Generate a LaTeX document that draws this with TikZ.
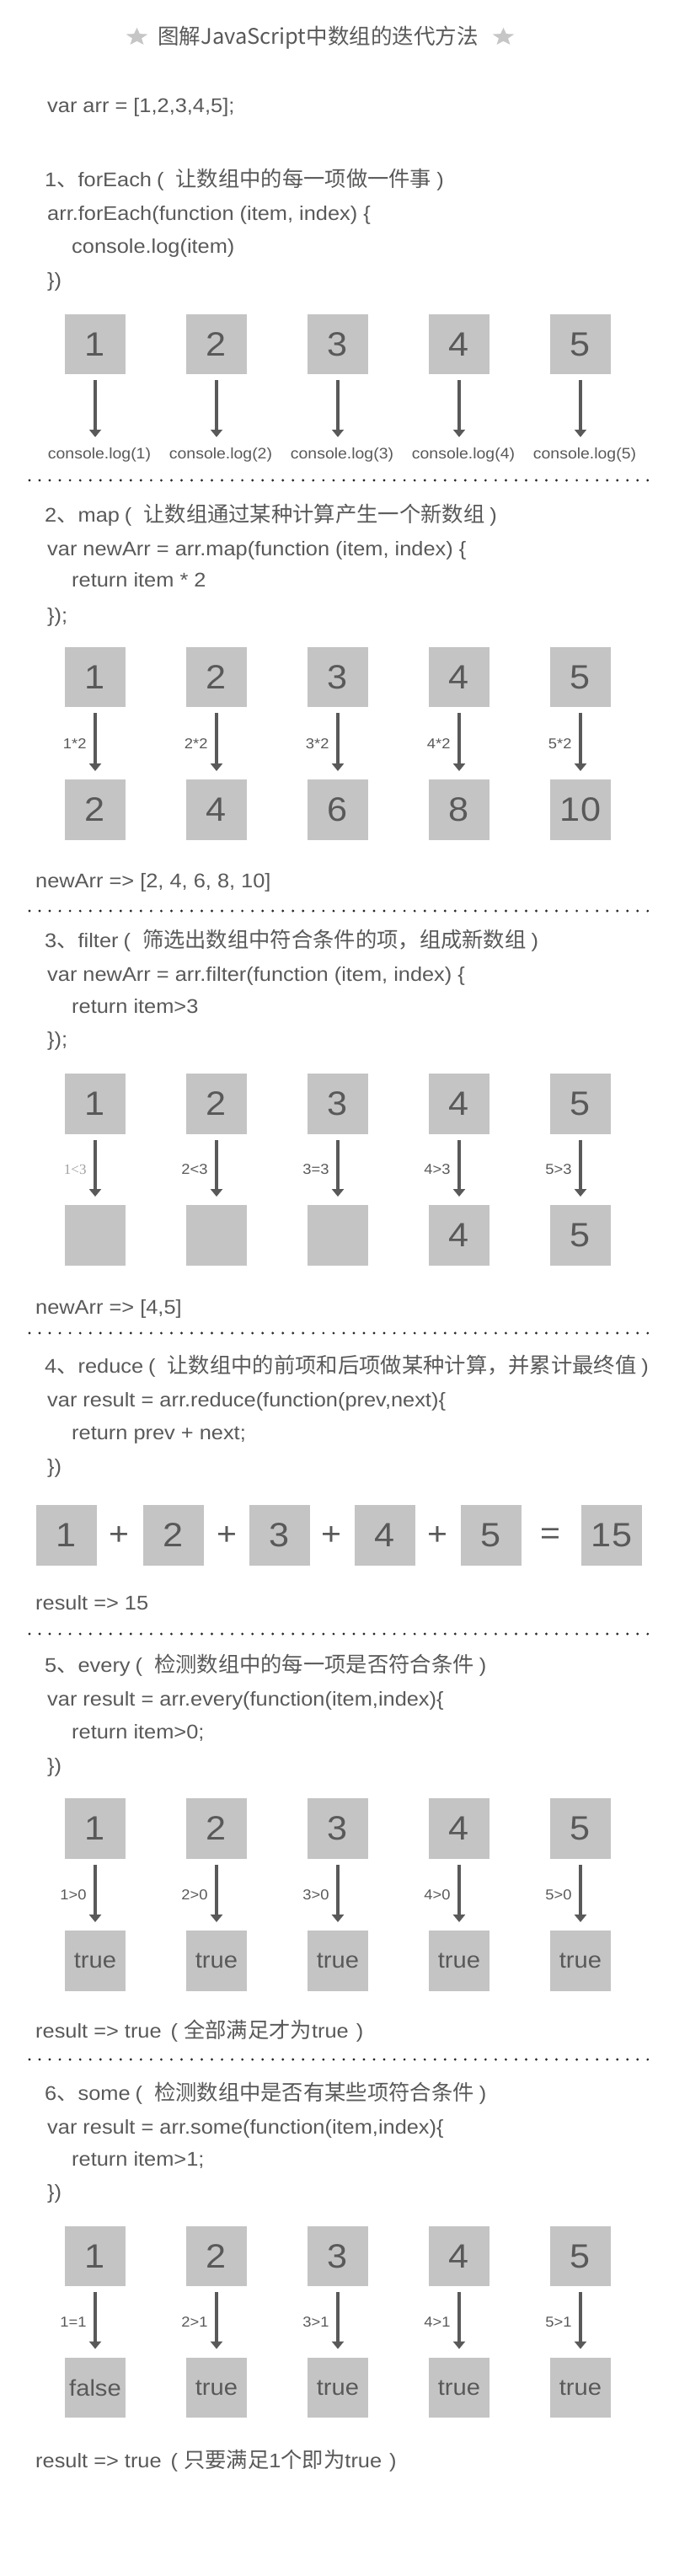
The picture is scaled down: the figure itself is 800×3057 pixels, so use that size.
\documentclass[tikz,border=0pt]{standalone}
\usepackage{fontspec}
\setmainfont{Liberation Sans}[FakeStretch=1.08]
\newfontfamily\cjkf{Noto Sans CJK SC}[Scale=1.077]
\newfontfamily\cjktitle{Noto Sans CJK SC}
\newfontfamily\serifx{Liberation Serif}
\usetikzlibrary{arrows.meta}
\newcommand\zh[1]{{\cjkf #1}}
\newcommand\lpar{\hspace{6pt}(\hspace{14pt}}
\newcommand\rpar{\hspace{6pt})}
\definecolor{txt}{HTML}{595959}
\definecolor{boxc}{HTML}{C4C4C4}
\definecolor{arrc}{HTML}{595959}
\definecolor{starc}{HTML}{C6C6C6}
\definecolor{dotc}{HTML}{2A2A2A}
\definecolor{lightc}{HTML}{A0A0A0}
\tikzset{
  txtline/.style={anchor=base west, inner sep=0pt, text=txt, font=\fontsize{23.5}{28}\selectfont},
  box/.style={fill=boxc, minimum width=72pt, minimum height=71.5pt, inner sep=0pt, text=txt, font=\fontsize{40}{40}\selectfont},
  tbox/.style={box, font=\fontsize{27}{27}\selectfont},
  arr/.style={draw=arrc, line width=4pt, -{Triangle[width=14pt,length=9pt]}, shorten <=7pt, shorten >=10pt},
  lbl/.style={font=\fontsize{17}{17}\selectfont, text=txt, inner sep=0pt, anchor=east, xshift=-8.5pt},
  op/.style={text=txt, inner sep=0pt, font=\fontsize{38}{38}\selectfont},
  clog/.style={anchor=base, inner sep=0pt, text=txt, font=\fontsize{18}{18}\selectfont},
}
\begin{document}
\begin{tikzpicture}[x=1pt,y=-1pt]
\useasboundingbox (0,0) rectangle (800,3057);
\fill[white] (0,0) rectangle (800,3057);

% ---------- title ----------
\node[inner sep=0pt, text=txt, font=\fontsize{25.5}{30}\cjktitle] (title) at (377.5,45) {图解JavaScript中数组的迭代方法};
\foreach \sx in {162.5,597.5} {
  \begin{scope}[shift={(\sx,44)}, yscale=-0.82]
    \fill[starc] (90:13.5) -- (126:5.8) -- (162:13.5) -- (198:5.8) -- (234:13.5) -- (270:5.8) -- (306:13.5) -- (342:5.8) -- (18:13.5) -- (54:5.8) -- cycle;
  \end{scope}
}

\node[txtline] (v0) at (56,133) {var arr = [1,2,3,4,5];};

% ---------- 1 forEach ----------
\node[txtline] (t1) at (53,221) {1\zh{、}forEach\lpar\zh{让数组中的每一项做一件事}\rpar};
\node[txtline] (s1a) at (56,261.5) {arr.forEach(function (item, index) \{};
\node[txtline] (s1b) at (85,300.5) {console.log(item)};
\node[txtline] (s1c) at (56,340.5) {\})};
\foreach \i in {1,...,5} {
  \node[box] (a\i) at ({113+144*(\i-1)},408.5) {\i};
  \node[clog] (c\i) at ({118+144*(\i-1)},544) {console.log(\i)};
  \draw[arr, shorten >=12pt] (a\i.south) -- (a\i.south |- c\i.north);
}

% ---------- 2 map ----------
\node[txtline] (t2) at (53,619) {2\zh{、}map\lpar\zh{让数组通过某种计算产生一个新数组}\rpar};
\node[txtline] (s2a) at (56,659.5) {var newArr = arr.map(function (item, index) \{};
\node[txtline] (s2b) at (85,696.5) {return item * 2};
\node[txtline] (s2c) at (56,738.5) {\});};
\foreach \i/\v in {1/2,2/4,3/6,4/8,5/10} {
  \node[box] (m\i) at ({113+144*(\i-1)},803.5) {\i};
  \node[box] (n\i) at ({113+144*(\i-1)},961) {\v};
  \draw[arr] (m\i.south) -- (n\i.north) node[midway, lbl] {\i*2};
}
\node[txtline] (r2) at (42,1053.5) {newArr => [2, 4, 6, 8, 10]};

% ---------- 3 filter ----------
\node[txtline] (t3) at (53,1124) {3\zh{、}filter\lpar\zh{筛选出数组中符合条件的项，组成新数组}\rpar};
\node[txtline] (s3a) at (56,1164.5) {var newArr = arr.filter(function (item, index) \{};
\node[txtline] (s3b) at (85,1202.5) {return item>3};
\node[txtline] (s3c) at (56,1241.5) {\});};
\foreach \i in {1,...,5} {
  \node[box] (f\i) at ({113+144*(\i-1)},1310) {\i};
}
\node[box] (g1) at (113,1466) {};
\node[box] (g2) at (257,1466) {};
\node[box] (g3) at (401,1466) {};
\node[box] (g4) at (545,1466) {4};
\node[box] (g5) at (689,1466) {5};
\draw[arr] (f1.south) -- (g1.north) node[midway, lbl, text=lightc, font=\fontsize{17}{17}\serifx] {1<3};
\draw[arr] (f2.south) -- (g2.north) node[midway, lbl] {2<3};
\draw[arr] (f3.south) -- (g3.north) node[midway, lbl] {3=3};
\draw[arr] (f4.south) -- (g4.north) node[midway, lbl] {4>3};
\draw[arr] (f5.south) -- (g5.north) node[midway, lbl] {5>3};
\node[txtline] (r3) at (42,1559.5) {newArr => [4,5]};

% ---------- 4 reduce ----------
\node[txtline] (t4) at (53,1629) {4\zh{、}reduce\lpar\zh{让数组中的前项和后项做某种计算，并累计最终值}\rpar};
\node[txtline] (s4a) at (56,1669.5) {var result = arr.reduce(function(prev,next)\{};
\node[txtline] (s4b) at (85,1708.5) {return prev + next;};
\node[txtline] (s4c) at (56,1748.5) {\})};
\node[box] (q1) at (79,1822) {1};
\node[box] (q2) at (205.5,1822) {2};
\node[box] (q3) at (331.5,1822) {3};
\node[box] (q4) at (457,1822) {4};
\node[box] (q5) at (582.5,1822) {5};
\node[box] (q6) at (726,1822) {15};
\node[op] (p1) at (141,1823) {+};
\node[op] (p2) at (269,1823) {+};
\node[op] (p3) at (393,1823) {+};
\node[op] (p4) at (519,1823) {+};
\node[op] (p5) at (653,1823) {=};
\node[txtline] (r4) at (42,1910) {result => 15};

% ---------- 5 every ----------
\node[txtline] (t5) at (53,1984) {5\zh{、}every\lpar\zh{检测数组中的每一项是否符合条件}\rpar};
\node[txtline] (s5a) at (56,2024.5) {var result = arr.every(function(item,index)\{};
\node[txtline] (s5b) at (85,2063.5) {return item>0;};
\node[txtline] (s5c) at (56,2103.5) {\})};
\foreach \i in {1,...,5} {
  \node[box] (e\i) at ({113+144*(\i-1)},2170) {\i};
  \node[tbox] (h\i) at ({113+144*(\i-1)},2327) {true};
  \draw[arr] (e\i.south) -- (h\i.north) node[midway, lbl] {\i>0};
}
\node[txtline] (r5) at (42,2418) {result => true\hspace{11pt}(\hspace{7pt}\zh{全部满足才为}true\hspace{9pt})};

% ---------- 6 some ----------
\node[txtline] (t6) at (53,2492) {6\zh{、}some\lpar\zh{检测数组中是否有某些项符合条件}\rpar};
\node[txtline] (s6a) at (56,2532.5) {var result = arr.some(function(item,index)\{};
\node[txtline] (s6b) at (85,2570.5) {return item>1;};
\node[txtline] (s6c) at (56,2609.5) {\})};
\foreach \i/\v/\l in {1/false/1=1,2/true/2>1,3/true/3>1,4/true/4>1,5/true/5>1} {
  \node[box] (k\i) at ({113+144*(\i-1)},2677.5) {\i};
  \node[tbox] (w\i) at ({113+144*(\i-1)},2833.5) {\v};
  \draw[arr] (k\i.south) -- (w\i.north) node[midway, lbl] {\l};
}
\node[txtline] (r6) at (42,2928) {result => true\hspace{11pt}(\hspace{7pt}\zh{只要满足}1\zh{个即为}true\hspace{9pt})};

% ---------- dotted separators ----------
\foreach \yy in {570,1081,1582,1939,2444} {
  \foreach \j in {0,...,61} {
    \fill[dotc] ({35+12.03*\j},\yy) circle (1.6pt);
  }
}
\end{tikzpicture}
\end{document}
